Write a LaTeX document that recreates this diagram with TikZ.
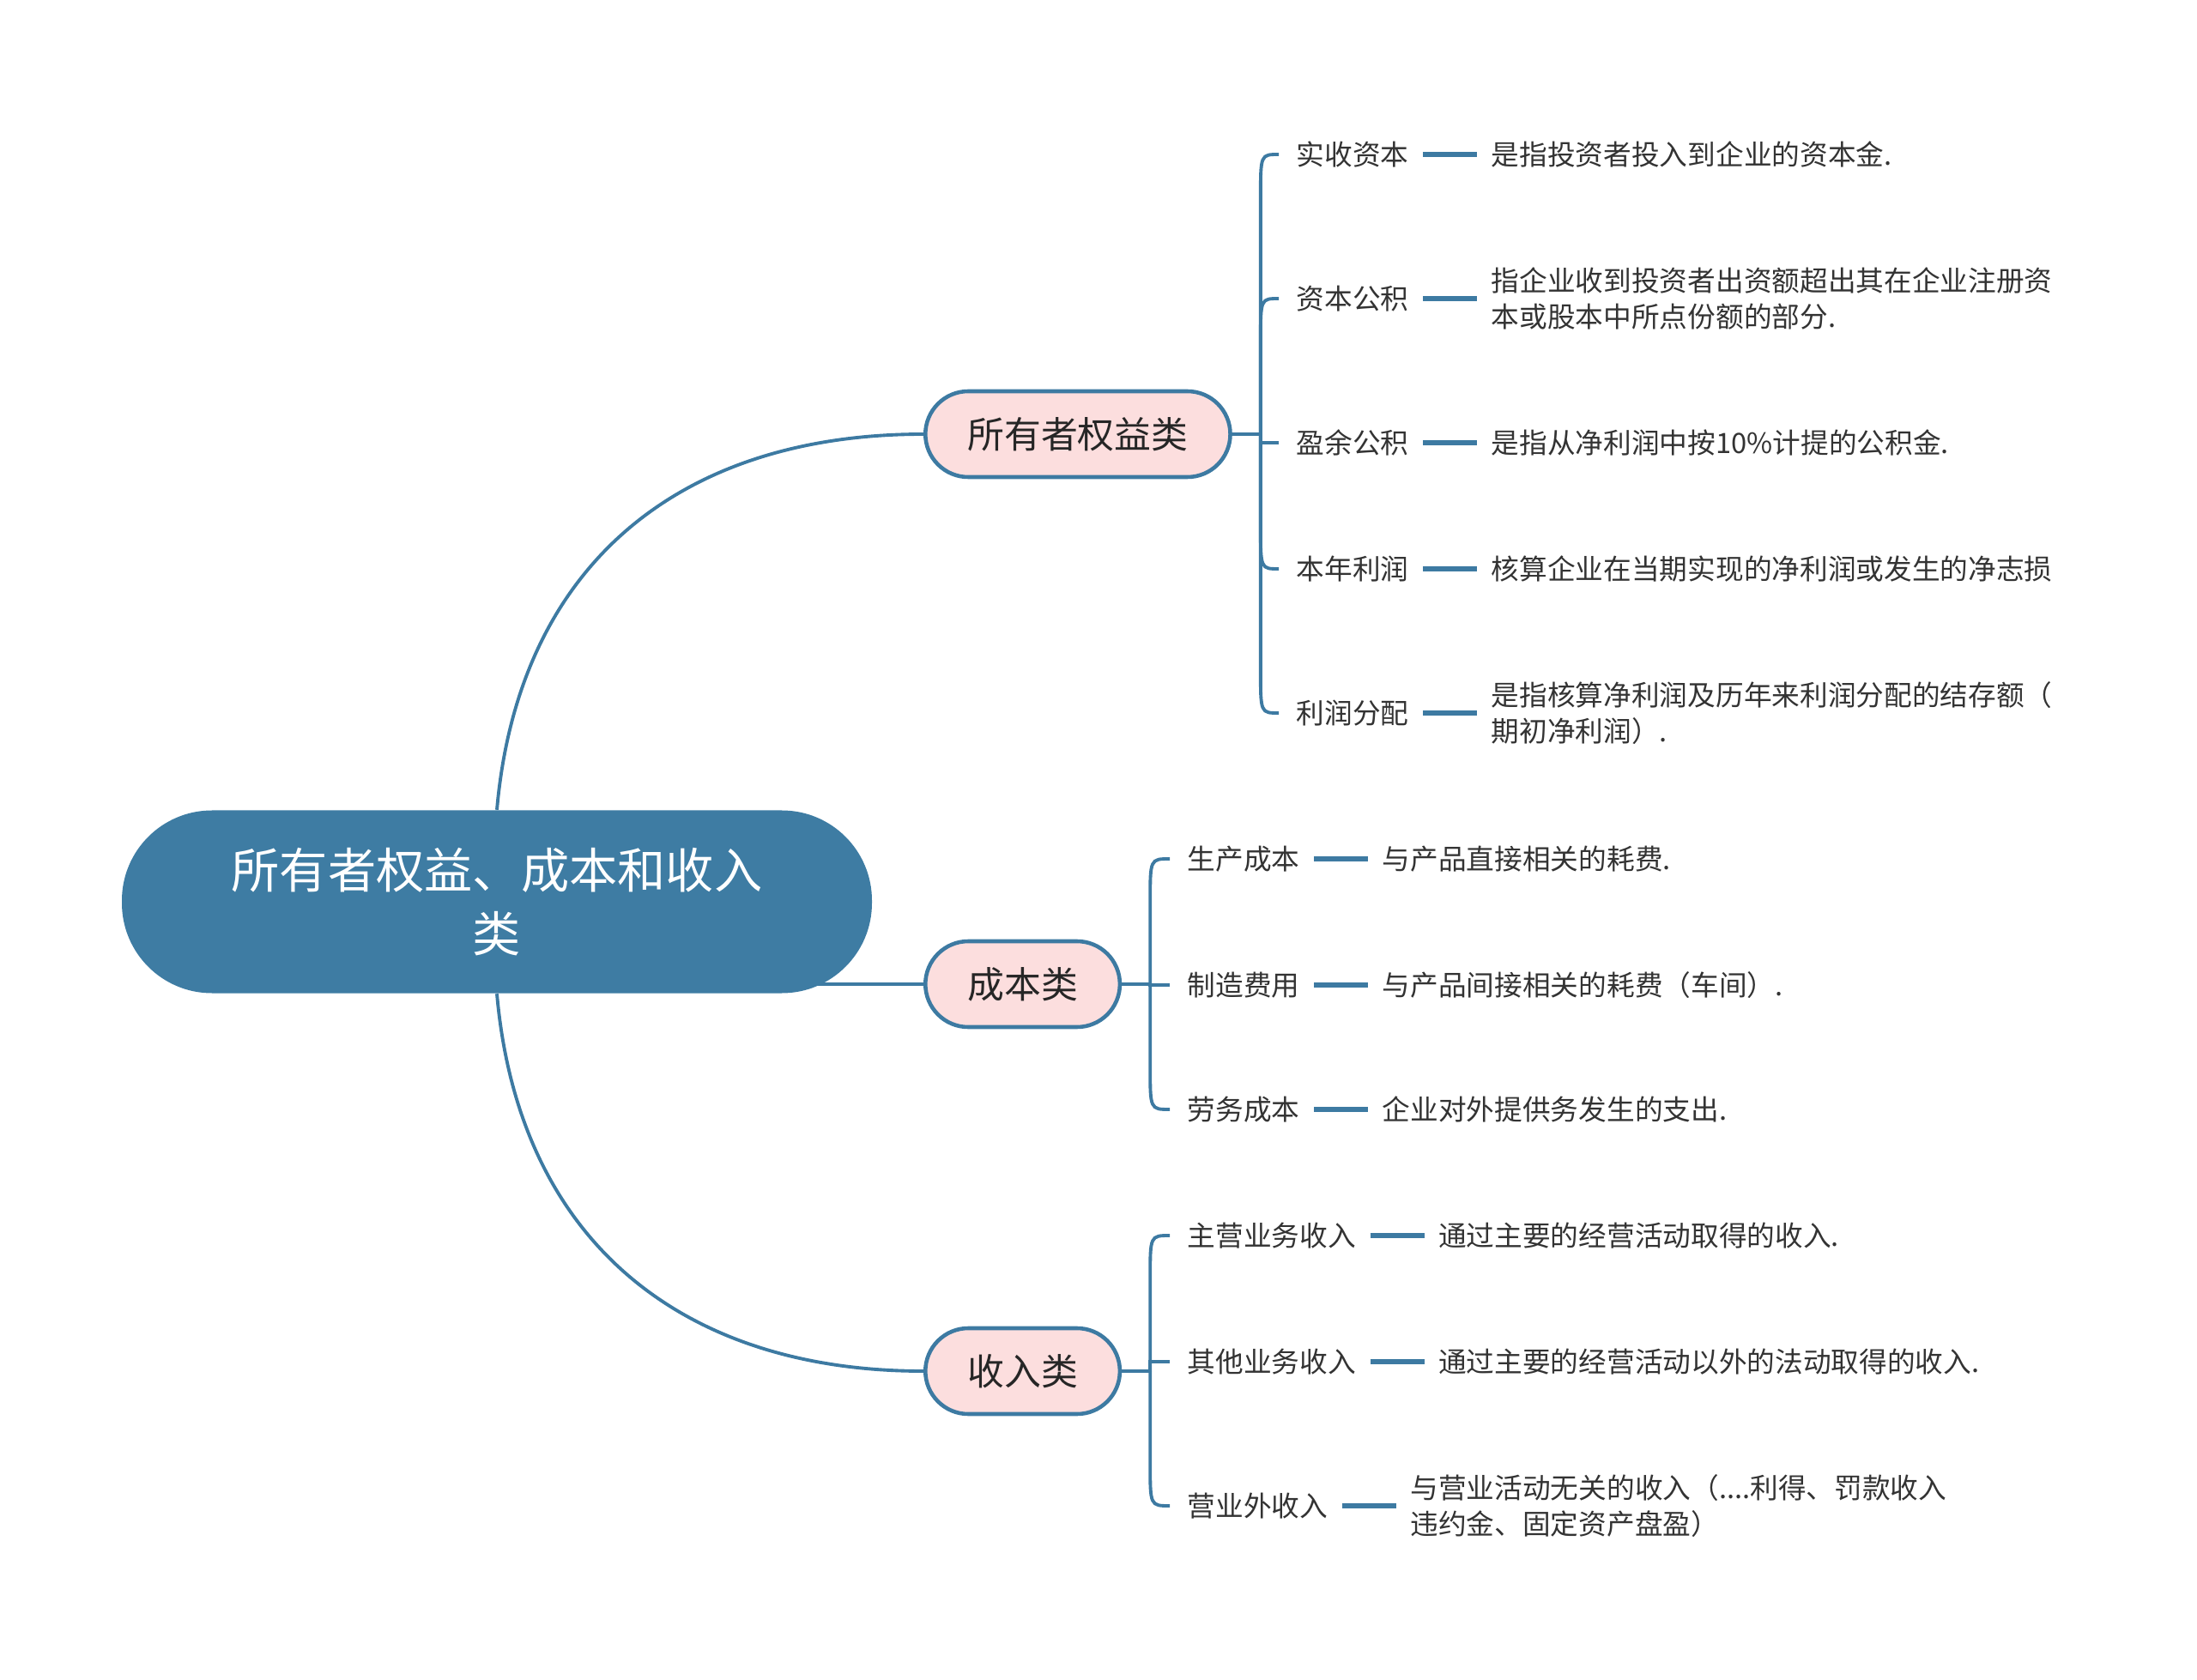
\documentclass[tikz,border=0pt]{standalone}
\usepackage{fontspec}
\setmainfont{Noto Sans CJK SC}
\usepackage{tikz}
\usetikzlibrary{positioning, backgrounds, calc}
\definecolor{rootblue}{HTML}{3E7CA3}
\definecolor{edgeblue}{HTML}{3D7AA2}
\definecolor{catpink}{HTML}{FCDEDE}
\definecolor{leaftext}{HTML}{333333}

\begin{document}
\begin{tikzpicture}[node distance = 0.55cm,
    root/.style={rectangle, fill=rootblue, text=white, rounded corners=1.05cm, minimum width=8.74cm, minimum height=2.13cm, align=center, font=\fontsize{16pt}{21pt}\selectfont},
    cat/.style={rectangle, draw=edgeblue, line width=1.3pt, fill=catpink, rounded corners=0.5cm, minimum height=1.0cm, inner xsep=0.49cm, anchor=west, text=black!85, font=\fontsize{12.2pt}{15pt}\selectfont},
    leaf/.style={inner sep=0.2cm, anchor=west, text=leaftext, font=\fontsize{9.3pt}{12pt}\selectfont},
    note/.style={inner sep=0.2cm, align=left, text=leaftext, font=\fontsize{9.3pt}{12pt}\selectfont},
    link/.style={edgeblue, line width=1.1pt},
    bracket/.style={edgeblue, line width=1.1pt},
    tie/.style={edgeblue, line width=1.6pt, shorten <=-0.04cm, shorten >=-0.04cm}
]
    \useasboundingbox (0,0) rectangle (25.6,-19.58);

    % Place nodes
    \node [root] (root) at (5.79,-10.51) {所有者权益、成本和收入\\类};
    \node [cat] (owner) at (10.76,-5.06) {所有者权益类};
    \node [cat] (cost) at (10.76,-11.47) {成本类};
    \node [cat] (income) at (10.76,-15.98) {收入类};

    \node [leaf] (paid) at (14.90,-1.80) {实收资本};
    \node [note, right=of paid] (paidnote) {是指投资者投入到企业的资本金.};
    \node [leaf] (capres) at (14.90,-3.48) {资本公积};
    \node [note, right=of capres] (capresnote) {指企业收到投资者出资额超出其在企业注册资\\本或股本中所点份额的部分.};
    \node [leaf] (surplus) at (14.90,-5.16) {盈余公积};
    \node [note, right=of surplus] (surplusnote) {是指从净利润中按10\%计提的公积金.};
    \node [leaf] (profit) at (14.90,-6.63) {本年利润};
    \node [note, right=of profit] (profitnote) {核算企业在当期实现的净利润或发生的净志损};
    \node [leaf] (distr) at (14.90,-8.31) {利润分配};
    \node [note, right=of distr] (distrnote) {是指核算净利润及历年来利润分配的结存额（\\期初净利润）.};

    \node [leaf] (prod) at (13.63,-10.01) {生产成本};
    \node [note, right=of prod] (prodnote) {与产品直接相关的耗费.};
    \node [leaf] (manu) at (13.63,-11.48) {制造费用};
    \node [note, right=of manu] (manunote) {与产品间接相关的耗费（车间）.};
    \node [leaf] (labor) at (13.63,-12.93) {劳务成本};
    \node [note, right=of labor] (labornote) {企业对外提供务发生的支出.};

    \node [leaf] (mainrev) at (13.63,-14.40) {主营业务收入};
    \node [note, right=of mainrev] (mainrevnote) {通过主要的经营活动取得的收入.};
    \node [leaf] (otherrev) at (13.63,-15.87) {其他业务收入};
    \node [note, right=of otherrev] (otherrevnote) {通过主要的经营活动以外的法动取得的收入.};
    \node [leaf] (nonop) at (13.63,-17.55) {营业外收入};
    \node [note, right=of nonop] (nonopnote) {与营业活动无关的收入（....利得、罚款收入\\违约金、固定资产盘盈）};

    % Draw edges
    \begin{scope}[on background layer]
    \draw [link] (root.north) to[out=85, in=180, looseness=1.1] (owner.west);
    \draw [link] (root.center |- cost.west) -- (cost.west);
    \draw [link] (root.south) to[out=-85, in=180, looseness=1.1] (income.west);
    \end{scope}

    % brackets to the leaves
    \draw [bracket] (owner.east) -- ++(0.33,0) coordinate (ownerfork);
    \draw [bracket] (ownerfork) -- ($(ownerfork |- paid.west)+(0,-0.5)$) .. controls (ownerfork |- paid.west) .. (paid.west);
    \draw [bracket] (ownerfork) -- ($(ownerfork |- capres.west)+(0,-0.5)$) .. controls (ownerfork |- capres.west) .. (capres.west);
    \draw [bracket] (ownerfork) |- (surplus.west);
    \draw [bracket] (ownerfork) -- ($(ownerfork |- profit.west)+(0,0.5)$) .. controls (ownerfork |- profit.west) .. (profit.west);
    \draw [bracket] (ownerfork) -- ($(ownerfork |- distr.west)+(0,0.5)$) .. controls (ownerfork |- distr.west) .. (distr.west);

    \draw [bracket] (cost.east) -- ++(0.33,0) coordinate (costfork);
    \draw [bracket] (costfork) -- ($(costfork |- prod.west)+(0,-0.5)$) .. controls (costfork |- prod.west) .. (prod.west);
    \draw [bracket] (costfork) |- (manu.west);
    \draw [bracket] (costfork) -- ($(costfork |- labor.west)+(0,0.5)$) .. controls (costfork |- labor.west) .. (labor.west);

    \draw [bracket] (income.east) -- ++(0.33,0) coordinate (incomefork);
    \draw [bracket] (incomefork) -- ($(incomefork |- mainrev.west)+(0,-0.5)$) .. controls (incomefork |- mainrev.west) .. (mainrev.west);
    \draw [bracket] (incomefork) |- (otherrev.west);
    \draw [bracket] (incomefork) -- ($(incomefork |- nonop.west)+(0,0.5)$) .. controls (incomefork |- nonop.west) .. (nonop.west);

    \draw [tie] (paid) -- (paidnote);
    \draw [tie] (capres) -- (capresnote);
    \draw [tie] (surplus) -- (surplusnote);
    \draw [tie] (profit) -- (profitnote);
    \draw [tie] (distr) -- (distrnote);
    \draw [tie] (prod) -- (prodnote);
    \draw [tie] (manu) -- (manunote);
    \draw [tie] (labor) -- (labornote);
    \draw [tie] (mainrev) -- (mainrevnote);
    \draw [tie] (otherrev) -- (otherrevnote);
    \draw [tie] (nonop) -- (nonopnote);
\end{tikzpicture}
\end{document}
